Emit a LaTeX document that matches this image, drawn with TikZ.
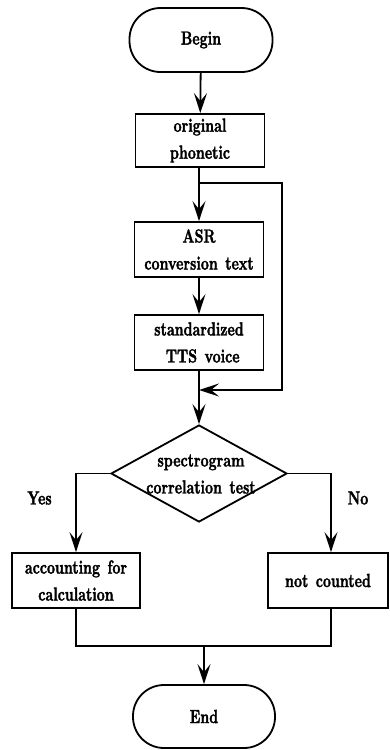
\documentclass[tikz,border=0pt]{standalone}
\usepackage{fontspec}
\newfontfamily\tallbf{lmroman10-bold}[Extension=.otf,FakeStretch=0.735,FakeBold=1.6,WordSpace=1.4]
\usetikzlibrary{arrows.meta,shapes.geometric}
\begin{document}
\begin{tikzpicture}[x=1pt,y=1pt,
  every node/.style={font=\tallbf\fontsize{19}{27}\selectfont},
  term/.style={draw,line width=1.8pt,rectangle,rounded corners=31pt,minimum width=143pt,minimum height=64pt,inner sep=0pt},
  proc/.style={draw,line width=1.8pt,rectangle,minimum width=129pt,minimum height=55pt,inner sep=0pt,align=center},
  dec/.style={draw,line width=1.8pt,diamond,minimum width=176pt,minimum height=97pt,inner sep=0pt},
  txt/.style={align=center,inner sep=0pt},
  line/.style={line width=1.8pt},
  arrow/.style={line width=1.8pt,-{Stealth[length=20pt,width=13pt,inset=8pt]}}]
\useasboundingbox (0,0) rectangle (389,-750);
\node[term] (begin) at (201,-40) {Begin};
\node[proc,minimum height=53pt] (orig) at (200,-140.5) {original\\phonetic};
\node[proc] (asr) at (199,-249.5) {ASR\\conversion text};
\node[proc] (tts) at (199,-342.5) {standardized\\\ TTS voice};
\node[dec] (dia) at (199,-473.5) {};
\node[txt] (diat) at (201,-474) {spectrogram\\correlation test};
\node[proc,minimum width=128pt] (acc) at (76,-580.5) {accounting for\\calculation};
\node[proc,minimum width=120pt] (notc) at (328,-580.5) {not counted};
\node[term,minimum width=142pt,minimum height=63pt] (end) at (204,-716.5) {End};
\node (yes) at (39.5,-498) {Yes};
\node (no) at (358,-498) {No};
\coordinate (split) at (199,-183);
\coordinate (join) at (199,-390);
\coordinate (merge) at (204,-646);
\draw[arrow] (begin) -- (orig);
\draw[arrow] (orig.south -| asr.north) -- (asr.north);
\draw[arrow] (asr) -- (tts);
\draw[line] (tts.south) -- (join);
\draw[arrow] (join) -- (dia.north);
\draw[arrow] (split) -- ++(83,0) |- (join);
\draw[arrow] (dia.west) -| (acc.north);
\draw[arrow] (dia.east) -| ([xshift=3pt]notc.north);
\draw[line] (acc.south) |- (merge);
\draw[line] ([xshift=3pt]notc.south) |- (merge);
\draw[arrow] (merge) -- (end.north);
\end{tikzpicture}
\end{document}
